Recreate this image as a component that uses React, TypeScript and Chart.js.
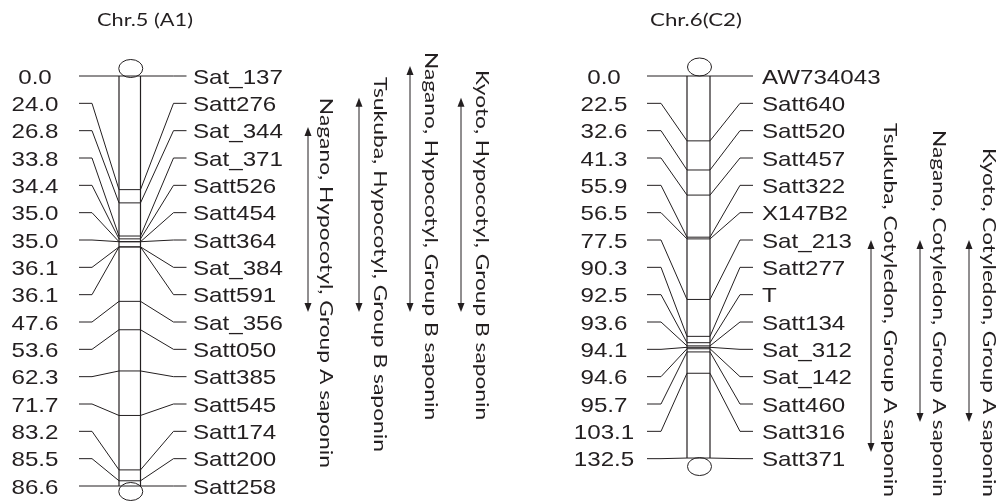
import React, { useEffect, useRef } from 'react';
import { Chart, registerables } from 'chart.js';

Chart.register(...registerables);

// ---------- data ----------
const chr5Title = 'Chr.5 (A1)';
const chr5Positions = [0.0, 24.0, 26.8, 33.8, 34.4, 35.0, 35.0, 36.1, 36.1, 47.6, 53.6, 62.3, 71.7, 83.2, 85.5, 86.6];
const chr5Markers = ['Sat_137', 'Satt276', 'Sat_344', 'Sat_371', 'Satt526', 'Satt454', 'Satt364', 'Sat_384', 'Satt591', 'Sat_356', 'Satt050', 'Satt385', 'Satt545', 'Satt174', 'Satt200', 'Satt258'];
const chr5Qtls = ['Nagano, Hypocotyl, Group A saponin', 'Tsukuba, Hypocotyl, Group B saponin', 'Nagano, Hypocotyl, Group B saponin', 'Kyoto, Hypocotyl, Group B saponin'];
// QTL spans expressed in marker-row units (row 0 = first marker row)
const chr5QtlFrom = [1.87, 0.8, -0.37, 0.8];
const chr5QtlTo = [8.63, 8.63, 8.63, 8.63];

const chr6Title = 'Chr.6(C2)';
const chr6Positions = [0.0, 22.5, 32.6, 41.3, 55.9, 56.5, 77.5, 90.3, 92.5, 93.6, 94.1, 94.6, 95.7, 103.1, 132.5];
const chr6Markers = ['AW734043', 'Satt640', 'Satt520', 'Satt457', 'Satt322', 'X147B2', 'Sat_213', 'Satt277', 'T', 'Satt134', 'Sat_312', 'Sat_142', 'Satt460', 'Satt316', 'Satt371'];
const chr6Qtls = ['Tsukuba, Cotyledon, Group A saponin', 'Nagano, Cotyledon, Group A saponin', 'Kyoto, Cotyledon, Group A saponin'];
const chr6QtlFrom = [6, 6, 6];
const chr6QtlTo = [13.76, 12.66, 12.66];

// ---------- layout / style ----------
const INK = '#231f20';
const ROW_MAX = 15;
const CHR6_AXIS_MAX = 142.2;
const MARKER_FONT = '21px "Liberation Sans", Arial, sans-serif';
const MARKER_SX = 1.15;
const NOTE_FONT_SIZE = 17;
const NOTE_FONT = `${NOTE_FONT_SIZE}px Lato, "Open Sans", sans-serif`;

const chr5Layout = {
  yId: 'y5', barL: 119, barR: 140.5, labelX: 35, nameX: 193,
  leftOuter: 40, leftInner: 27, rightInner: 33, rightOuter: 46,
  capDx: 1, capTop: 7.5, capBottom: 5.5, titleX: 145, titleW: 96,
  arrowX: [308, 359, 410, 461], textX: [324, 378, 429.5, 480],
  textFrom: [0.8, 0.04, -0.88, -0.22], textTo: [14.34, 13.76, 12.59, 12.59],
};
const chr6Layout = {
  yId: 'y6', barL: 687, barR: 710, labelX: 604, nameX: 762,
  leftOuter: 40, leftInner: 26, rightInner: 30, rightOuter: 43,
  capDx: 1, capTop: 9, capBottom: 8.5, titleX: 696, titleW: 92,
  arrowX: [871, 920, 969], textX: [888, 937, 987],
  textFrom: [1.72, 1.98, 2.63], textTo: [15.4, 15.4, 15.4],
};

function arrowHead(ctx: CanvasRenderingContext2D, x: number, y: number, dir: number) {
  ctx.beginPath();
  ctx.moveTo(x, y);
  ctx.lineTo(x - 3.5, y - dir * 9);
  ctx.lineTo(x + 3.5, y - dir * 9);
  ctx.closePath();
  ctx.fill();
}

function drawChrom(chart: any, L: any, positions: number[], markers: string[], title: string,
  qtls: string[], qFrom: number[], qTo: number[]) {
  const ctx: CanvasRenderingContext2D = chart.ctx;
  const xs = chart.scales.x;
  const rs = chart.scales.row;
  const ps = chart.scales[L.yId];
  const px = (v: number) => xs.getPixelForValue(v);
  const bl = px(L.barL);
  const br = px(L.barR);
  const bc = (bl + br) / 2;
  const maxPos = positions[positions.length - 1];
  ctx.save();
  ctx.strokeStyle = INK;
  ctx.fillStyle = INK;
  ctx.lineWidth = 1;

  // connectors
  positions.forEach((p, i) => {
    const ry = rs.getPixelForValue(i);
    const py = ps.getPixelForValue(p);
    ctx.beginPath();
    ctx.moveTo(px(L.barL - L.leftOuter), ry);
    ctx.lineTo(px(L.barL - L.leftInner), ry);
    ctx.lineTo(bl, py);
    ctx.moveTo(br, py);
    ctx.lineTo(px(L.barR + L.rightInner), ry);
    ctx.lineTo(px(L.barR + L.rightOuter), ry);
    ctx.stroke();
  });

  // caps
  const top = ps.getPixelForValue(0);
  const bot = ps.getPixelForValue(maxPos);
  ctx.beginPath();
  ctx.ellipse(bc + L.capDx, top - L.capTop, 12, 9, 0, 0, Math.PI * 2);
  ctx.stroke();
  ctx.beginPath();
  ctx.ellipse(bc + L.capDx, bot + L.capBottom, 12, 9, 0, 0, Math.PI * 2);
  ctx.stroke();

  // texts
  ctx.font = MARKER_FONT;
  ctx.textBaseline = 'alphabetic';
  positions.forEach((p, i) => {
    const ry = rs.getPixelForValue(i) + 7.5;
    ctx.save();
    ctx.translate(px(L.labelX), ry);
    ctx.scale(MARKER_SX, 1);
    ctx.textAlign = 'center';
    ctx.fillText(p.toFixed(1), 0, 0);
    ctx.restore();
    ctx.save();
    ctx.translate(px(L.nameX), ry);
    ctx.scale(MARKER_SX, 1);
    ctx.textAlign = 'left';
    ctx.fillText(markers[i], 0, 0);
    ctx.restore();
  });

  // title
  ctx.font = NOTE_FONT;
  ctx.textAlign = 'center';
  const tw = ctx.measureText(title).width;
  ctx.save();
  ctx.translate(px(L.titleX), 26);
  ctx.scale(L.titleW / tw, 1);
  ctx.fillText(title, 0, 0);
  ctx.restore();

  // QTL arrows and notes
  qtls.forEach((q, k) => {
    const ax = px(L.arrowX[k]);
    const y1 = rs.getPixelForValue(qFrom[k]);
    const y2 = rs.getPixelForValue(qTo[k]);
    ctx.beginPath();
    ctx.moveTo(ax, y1 + 3);
    ctx.lineTo(ax, y2 - 3);
    ctx.stroke();
    arrowHead(ctx, ax, y1, -1);
    arrowHead(ctx, ax, y2, 1);

    const t1 = rs.getPixelForValue(L.textFrom[k]);
    const t2 = rs.getPixelForValue(L.textTo[k]);
    ctx.font = NOTE_FONT;
    ctx.textAlign = 'left';
    const w = ctx.measureText(q).width;
    ctx.save();
    ctx.translate(px(L.textX[k]) - 0.26 * NOTE_FONT_SIZE, t1);
    ctx.rotate(Math.PI / 2);
    ctx.scale((t2 - t1) / w, 1);
    ctx.fillText(q, 0, 0);
    ctx.restore();
  });
  ctx.restore();
}

const mapPlugin = {
  id: 'linkageMap',
  afterDatasetsDraw(chart: any) {
    drawChrom(chart, chr5Layout, chr5Positions, chr5Markers, chr5Title, chr5Qtls, chr5QtlFrom, chr5QtlTo);
    drawChrom(chart, chr6Layout, chr6Positions, chr6Markers, chr6Title, chr6Qtls, chr6QtlFrom, chr6QtlTo);
  },
};

function tickDataset(L: any, positions: number[]) {
  const c = (L.barL + L.barR) / 2;
  return {
    type: 'scatter' as const,
    data: positions.map((p) => ({ x: c, y: p })),
    yAxisID: L.yId,
    pointStyle: 'line',
    pointRadius: (L.barR - L.barL) / 2,
    pointHoverRadius: (L.barR - L.barL) / 2,
    borderColor: INK,
    backgroundColor: INK,
    pointBorderWidth: 1,
    borderWidth: 1,
    clip: false,
  };
}

function sideDataset(x: number, yId: string, maxPos: number) {
  return {
    type: 'line' as const,
    data: [{ x, y: 0 }, { x, y: maxPos }],
    yAxisID: yId,
    borderColor: INK,
    borderWidth: 1.2,
    pointRadius: 0,
    fill: false,
    clip: false,
  };
}

export default function App() {
  const ref = useRef<HTMLCanvasElement | null>(null);
  useEffect(() => {
    if (!ref.current) return;
    const max5 = chr5Positions[chr5Positions.length - 1];
    const max6 = chr6Positions[chr6Positions.length - 1];
    const chart = new Chart(ref.current, {
      type: 'scatter',
      data: {
        datasets: [
          tickDataset(chr5Layout, chr5Positions),
          tickDataset(chr6Layout, chr6Positions),
          sideDataset(chr5Layout.barL, 'y5', max5),
          sideDataset(chr5Layout.barR, 'y5', max5),
          sideDataset(chr6Layout.barL, 'y6', max6),
          sideDataset(chr6Layout.barR, 'y6', max6),
        ] as any,
      },
      options: {
        animation: false,
        responsive: true,
        maintainAspectRatio: false,
        events: [],
        layout: { autoPadding: false, padding: { top: 76, bottom: 15, left: 0, right: 0 } },
        plugins: { legend: { display: false }, tooltip: { enabled: false } },
        scales: {
          x: { type: 'linear', min: 0, max: 1000, display: false },
          row: { axis: 'y', type: 'linear', min: 0, max: ROW_MAX, reverse: true, display: false },
          y5: { axis: 'y', type: 'linear', min: 0, max: max5, reverse: true, display: false },
          y6: { axis: 'y', type: 'linear', min: 0, max: CHR6_AXIS_MAX, reverse: true, display: false },
        } as any,
      },
      plugins: [mapPlugin],
    });
    return () => chart.destroy();
  }, []);
  return (
    <div style={{ position: 'absolute', left: 0, top: 0, width: 1000, height: 501, background: '#fff' }}>
      <canvas ref={ref} />
    </div>
  );
}
